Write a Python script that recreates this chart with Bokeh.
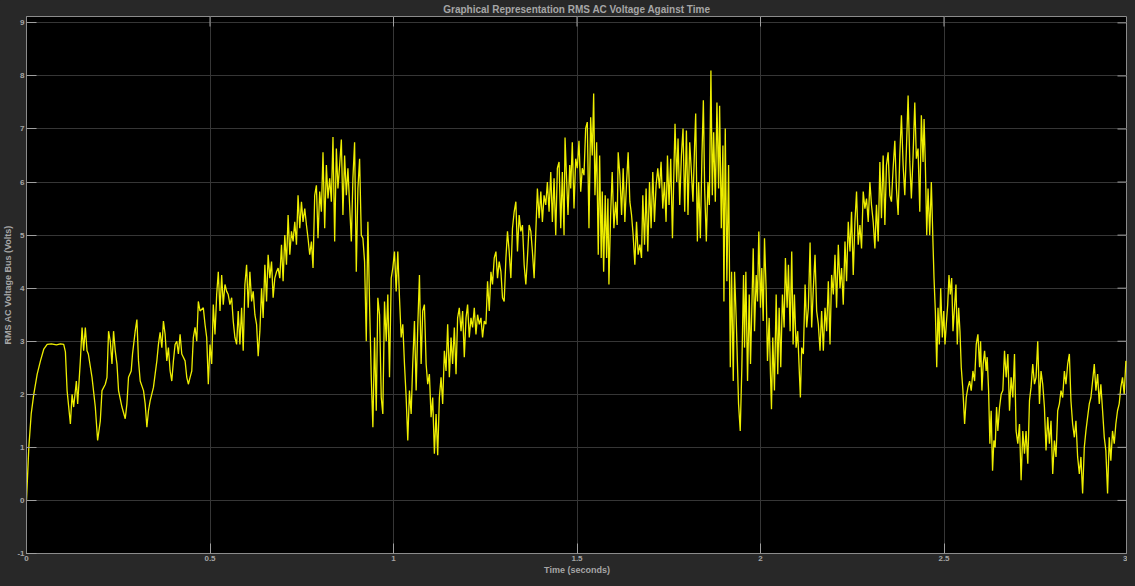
import math
from bokeh.plotting import figure
from bokeh.models import Range1d, FixedTicker, Label, ColumnDataSource
from bokeh.embed import file_html
from bokeh.resources import INLINE

# ---------------- data (time in seconds, voltage in units of 1e5 V) ----------------
time_s = [
    0.0000, 0.0063, 0.0128, 0.0198, 0.0291, 0.0380, 0.0470, 0.0563, 0.0679, 0.0815, 0.0924, 0.1014,
    0.1060, 0.1106, 0.1196, 0.1242, 0.1285, 0.1359, 0.1394, 0.1467, 0.1514, 0.1557, 0.1603, 0.1649,
    0.1685, 0.1785, 0.1875, 0.1938, 0.2011, 0.2057, 0.2147, 0.2193, 0.2236, 0.2283, 0.2329, 0.2372,
    0.2418, 0.2465, 0.2508, 0.2601, 0.2690, 0.2736, 0.2780, 0.2853, 0.2889, 0.2962, 0.3008, 0.3052,
    0.3098, 0.3188, 0.3234, 0.3280, 0.3323, 0.3370, 0.3459, 0.3505, 0.3552, 0.3595, 0.3641, 0.3688,
    0.3731, 0.3777, 0.3823, 0.3867, 0.3913, 0.3959, 0.4003, 0.4049, 0.4095, 0.4139, 0.4185, 0.4231,
    0.4274, 0.4321, 0.4367, 0.4410, 0.4457, 0.4503, 0.4546, 0.4592, 0.4639, 0.4682,
    0.4728, 0.4818, 0.4864, 0.4910, 0.4954, 0.5000, 0.5046, 0.5090, 0.5136, 0.5182, 0.5226, 0.5272,
    0.5318, 0.5361, 0.5408, 0.5454, 0.5497, 0.5543, 0.5590, 0.5633, 0.5679, 0.5726, 0.5769, 0.5815,
    0.5861, 0.5905, 0.5951, 0.5997, 0.6041, 0.6087, 0.6133, 0.6177, 0.6223, 0.6269, 0.6313, 0.6359,
    0.6405, 0.6448, 0.6495, 0.6541, 0.6584, 0.6630, 0.6677, 0.6720, 0.6766, 0.6813, 0.6856, 0.6902,
    0.6948, 0.6992, 0.7038, 0.7084, 0.7128, 0.7174, 0.7220, 0.7264, 0.7310, 0.7356, 0.7399, 0.7446,
    0.7492, 0.7535, 0.7582, 0.7628, 0.7671, 0.7717, 0.7764, 0.7807, 0.7853, 0.7899, 0.7943, 0.7989,
    0.8035, 0.8079, 0.8125, 0.8171, 0.8215, 0.8261, 0.8307, 0.8351, 0.8397, 0.8443, 0.8486, 0.8533,
    0.8579, 0.8622, 0.8668, 0.8715, 0.8758, 0.8804, 0.8851, 0.8894, 0.8940, 0.8986, 0.9030, 0.9076,
    0.9122, 0.9166, 0.9212, 0.9258, 0.9302, 0.9348, 0.9394, 0.9438, 0.9484, 0.9530, 0.9573,
    0.9620, 0.9666, 0.9709, 0.9755, 0.9802, 0.9845, 0.9891, 0.9938, 0.9981, 1.0027, 1.0073, 1.0117,
    1.0163, 1.0209, 1.0253, 1.0299, 1.0345, 1.0389, 1.0435, 1.0481, 1.0524, 1.0571, 1.0617, 1.0660,
    1.0707, 1.0753, 1.0796, 1.0842, 1.0889, 1.0932, 1.0978, 1.1024, 1.1068, 1.1114, 1.1160, 1.1204,
    1.1250, 1.1296, 1.1340, 1.1386, 1.1432, 1.1476, 1.1522, 1.1568, 1.1611, 1.1658, 1.1704, 1.1747,
    1.1793, 1.1840, 1.1883, 1.1929, 1.1976, 1.2019, 1.2065, 1.2111, 1.2155, 1.2201, 1.2247, 1.2291,
    1.2337, 1.2383, 1.2427, 1.2473, 1.2519, 1.2563, 1.2609, 1.2655, 1.2698, 1.2745, 1.2791, 1.2834,
    1.2880, 1.2927, 1.2970, 1.3016, 1.3063, 1.3106, 1.3152, 1.3198, 1.3242, 1.3288, 1.3334, 1.3378,
    1.3424, 1.3470, 1.3514, 1.3560, 1.3606, 1.3649, 1.3696, 1.3742, 1.3785, 1.3832, 1.3878, 1.3921,
    1.3967, 1.4014, 1.4057, 1.4103, 1.4149, 1.4193, 1.4239, 1.4285, 1.4329, 1.4375, 1.4421, 1.4465,
    1.4511,
    1.4557, 1.4601, 1.4647, 1.4674, 1.4709, 1.4755, 1.4802, 1.4829, 1.4872, 1.4918, 1.4965, 1.5008,
    1.5054, 1.5101, 1.5144, 1.5190, 1.5236, 1.5280, 1.5326, 1.5372, 1.5416, 1.5454, 1.5489, 1.5535,
    1.5579, 1.5617, 1.5660, 1.5688, 1.5726, 1.5769, 1.5807, 1.5842, 1.5870, 1.5916, 1.5959, 1.6005,
    1.6052, 1.6095, 1.6122, 1.6168, 1.6215, 1.6258, 1.6304, 1.6351, 1.6394, 1.6440, 1.6486, 1.6530,
    1.6576, 1.6622, 1.6666, 1.6712, 1.6758, 1.6793, 1.6840, 1.6883, 1.6929, 1.6976, 1.7019, 1.7065,
    1.7111, 1.7155, 1.7201, 1.7247, 1.7291, 1.7337, 1.7383, 1.7427, 1.7465, 1.7508, 1.7554, 1.7601,
    1.7644, 1.7671, 1.7717, 1.7753, 1.7799, 1.7845, 1.7889, 1.7935, 1.7981, 1.8024, 1.8071, 1.8117,
    1.8160, 1.8207, 1.8234, 1.8280, 1.8315, 1.8361, 1.8405, 1.8443, 1.8478, 1.8524, 1.8568, 1.8606,
    1.8649, 1.8687, 1.8723, 1.8769, 1.8813, 1.8859, 1.8886, 1.8932, 1.8976, 1.9003, 1.9040, 1.9084,
    1.9130, 1.9177, 1.9212, 1.9258, 1.9293, 1.9340,
    1.9402, 1.9448, 1.9492, 1.9538, 1.9565, 1.9601, 1.9647, 1.9693, 1.9728, 1.9764, 1.9802, 1.9837,
    1.9883, 1.9918, 1.9954, 2.0000, 2.0035, 2.0073, 2.0109, 2.0155, 2.0190, 2.0236, 2.0272, 2.0299,
    2.0334, 2.0380, 2.0427, 2.0470, 2.0508, 2.0552, 2.0598, 2.0644, 2.0679, 2.0726, 2.0761, 2.0807,
    2.0851, 2.0889, 2.0924, 2.0970, 2.1014, 2.1060, 2.1087, 2.1122, 2.1168, 2.1215, 2.1258, 2.1304,
    2.1351, 2.1394, 2.1440, 2.1486, 2.1530, 2.1576, 2.1622, 2.1666, 2.1712, 2.1758, 2.1802, 2.1848,
    2.1894, 2.1938, 2.1984, 2.2030, 2.2073, 2.2120, 2.2166, 2.2209, 2.2255, 2.2302, 2.2345, 2.2391,
    2.2438, 2.2481, 2.2527, 2.2573, 2.2617, 2.2663, 2.2709, 2.2753, 2.2799, 2.2845, 2.2889, 2.2935,
    2.2981, 2.3024, 2.3071, 2.3117, 2.3160, 2.3207, 2.3253, 2.3296, 2.3342, 2.3389, 2.3432, 2.3478,
    2.3524, 2.3568, 2.3614, 2.3660, 2.3704, 2.3750, 2.3796, 2.3840, 2.3886, 2.3932, 2.3976, 2.4022,
    2.4068, 2.4111, 2.4158, 2.4204, 2.4247, 2.4293, 2.4340, 2.4383, 2.4429, 2.4457, 2.4492, 2.4530,
    2.4565, 2.4611, 2.4655,
    2.4701, 2.4728, 2.4764, 2.4802, 2.4837, 2.4872, 2.4910, 2.4954, 2.4992, 2.5027, 2.5063, 2.5101,
    2.5136, 2.5171, 2.5209, 2.5245, 2.5291, 2.5326, 2.5362, 2.5399, 2.5435, 2.5470, 2.5516, 2.5562,
    2.5606, 2.5652, 2.5698, 2.5742, 2.5788, 2.5834, 2.5878, 2.5924, 2.5970, 2.5997, 2.6033, 2.6068,
    2.6106, 2.6149, 2.6177, 2.6215, 2.6250, 2.6285, 2.6323, 2.6359, 2.6394, 2.6432, 2.6467, 2.6514,
    2.6557, 2.6603, 2.6649, 2.6693, 2.6739, 2.6785, 2.6829, 2.6875, 2.6921, 2.6965, 2.7011, 2.7057,
    2.7101, 2.7147, 2.7193, 2.7236, 2.7283, 2.7329, 2.7372, 2.7418, 2.7465, 2.7508, 2.7554, 2.7601,
    2.7644, 2.7690, 2.7736, 2.7780, 2.7826, 2.7872, 2.7916, 2.7962, 2.8008, 2.8052, 2.8098, 2.8144,
    2.8188, 2.8234, 2.8280, 2.8323, 2.8370, 2.8416, 2.8459, 2.8505, 2.8552, 2.8595, 2.8641, 2.8688,
    2.8731, 2.8777, 2.8823, 2.8867, 2.8913, 2.8959, 2.9003, 2.9049, 2.9095, 2.9139, 2.9185, 2.9231,
    2.9274, 2.9321, 2.9367, 2.9410, 2.9457, 2.9503, 2.9546, 2.9592, 2.9639, 2.9682, 2.9728, 2.9774,
    2.9818, 2.9864, 2.9910, 2.9956,
]

voltage_1e5 = [
    0.00, 1.00, 1.63, 2.00, 2.38, 2.63, 2.85, 2.94, 2.95, 2.93, 2.95, 2.94,
    2.80, 2.07, 1.44, 2.00, 1.76, 2.25, 1.82, 2.63, 3.26, 2.82, 3.26, 2.82,
    2.76, 2.32, 1.76, 1.13, 1.50, 2.07, 2.19, 2.32, 3.19, 3.00, 2.57, 3.19,
    2.82, 2.57, 2.07, 1.76, 1.54, 1.82, 2.32, 2.44, 2.76, 3.19, 3.41, 2.63,
    2.25, 2.07, 1.82, 1.38, 1.69, 1.88, 2.13, 2.38, 2.63, 2.94, 3.17, 2.88,
    3.38, 3.13, 2.63, 2.88, 2.44, 2.25, 2.63, 2.94, 3.00, 2.76, 3.13, 2.76,
    2.70, 2.63, 2.32, 2.19, 2.32, 2.44, 3.07, 3.26, 3.00, 3.75,
    3.57, 3.63, 3.32, 3.07, 2.19, 2.94, 2.57, 3.69, 3.13, 3.88, 4.31, 3.57,
    4.25, 3.69, 4.07, 3.94, 3.88, 3.69, 3.82, 3.38, 3.07, 2.94, 3.57, 2.94,
    3.63, 2.82, 4.07, 4.44, 3.63, 4.31, 3.75, 3.94, 3.50, 3.32, 2.72, 3.19,
    4.00, 3.44, 4.44, 3.75, 4.63, 4.19, 4.50, 3.82, 4.19, 4.31, 4.38, 4.19,
    4.82, 4.13, 5.00, 4.44, 5.38, 4.63, 5.07, 4.88, 5.25, 4.82, 5.75, 5.13,
    5.63, 5.25, 5.50, 5.19, 4.94, 4.63, 4.88, 4.38, 5.75, 5.94, 4.94, 5.82,
    5.44, 6.56, 5.13, 6.32, 5.69, 6.07, 5.63, 6.85, 4.88, 6.63, 5.88, 6.32,
    6.80, 5.38, 6.50, 5.75, 6.26, 5.57, 4.88, 6.07, 6.75, 4.31, 5.88, 6.44,
    5.00, 4.94, 4.50, 3.00, 5.25, 3.69, 2.32, 1.38, 3.07, 1.69, 3.82,
    3.50, 1.94, 1.63, 3.75, 3.00, 3.88, 2.32, 4.19, 4.38, 4.69, 3.94, 4.69,
    3.82, 3.07, 3.32, 2.57, 1.94, 1.13, 2.07, 1.63, 2.57, 3.38, 2.07, 3.26,
    4.25, 2.57, 3.57, 3.69, 2.57, 2.19, 2.38, 1.57, 1.94, 0.88, 1.63, 0.85,
    1.94, 2.32, 1.82, 2.82, 2.44, 3.32, 2.32, 3.07, 2.57, 3.26, 2.38, 3.44,
    3.63, 3.19, 3.57, 2.70, 3.44, 3.69, 3.07, 3.44, 3.26, 3.63, 3.13, 3.50,
    3.32, 3.44, 3.07, 3.38, 3.32, 4.13, 3.57, 4.31, 4.07, 4.57, 4.69, 4.19,
    4.50, 4.31, 3.82, 3.75, 4.57, 5.07, 4.69, 4.19, 5.13, 5.44, 5.63, 4.69,
    5.38, 5.07, 5.19, 4.44, 4.07, 4.57, 5.19, 5.07, 4.69, 4.19, 5.07, 5.88,
    5.32, 5.82, 5.25, 5.75, 5.57, 6.00, 5.44, 6.19, 5.25, 6.07, 5.00, 6.26,
    6.38,
    5.13, 6.19, 5.00, 6.84, 6.19, 5.38, 6.32, 5.88, 6.75, 5.50, 6.44, 6.26,
    6.78, 5.82, 6.26, 6.13, 7.01, 7.13, 5.13, 7.22, 6.50, 7.67, 5.75, 6.75,
    4.63, 6.50, 4.57, 5.82, 4.31, 5.75, 4.57, 5.69, 4.07, 5.38, 6.19, 5.13,
    5.63, 5.19, 6.56, 6.13, 5.38, 6.26, 5.25, 6.00, 6.56, 5.63, 5.38, 5.00,
    4.44, 5.25, 4.63, 4.82, 4.57, 5.75, 4.82, 5.88, 4.69, 6.00, 5.13, 6.19,
    5.25, 5.94, 6.26, 5.88, 6.38, 5.50, 6.00, 5.25, 6.50, 5.57, 6.44, 4.94,
    6.32, 7.10, 6.00, 6.82, 5.57, 6.50, 7.01, 5.44, 6.97, 5.38, 6.75, 6.19,
    5.63, 6.75, 7.29, 4.88, 6.00, 4.94, 6.50, 7.54, 5.88, 4.88, 6.00, 5.57,
    8.10, 5.75, 6.94, 5.63, 7.50, 5.88, 7.44, 5.13, 6.69, 3.75, 7.01, 4.13,
    6.32, 2.51, 4.31, 2.25, 4.31, 3.38,
    1.82, 1.31, 2.51, 4.25, 2.88, 4.31, 2.25, 3.88, 2.57, 3.63, 4.75, 3.19,
    4.25, 3.75, 5.07, 3.63, 4.38, 3.38, 4.94, 3.94, 2.63, 3.44, 2.38, 1.72,
    3.07, 2.07, 3.88, 2.38, 3.63, 2.51, 3.88, 3.26, 4.57, 3.63, 4.44, 3.19,
    4.69, 2.94, 3.88, 2.88, 3.19, 2.38, 1.94, 2.88, 2.76, 4.07, 3.26, 3.63,
    4.86, 3.26, 4.00, 4.63, 3.57, 3.32, 2.82, 3.57, 2.82, 3.63, 3.19, 4.13,
    2.94, 4.25, 3.88, 4.63, 3.63, 4.82, 4.00, 4.38, 3.69, 4.88, 4.13, 5.25,
    4.69, 5.44, 4.25, 5.25, 5.82, 4.82, 5.19, 4.75, 5.82, 5.50, 5.69, 5.25,
    6.00, 5.57, 5.25, 4.75, 5.57, 4.88, 6.38, 5.32, 6.50, 5.19, 6.32, 6.56,
    5.75, 5.63, 6.26, 6.78, 5.88, 5.38, 6.50, 7.26, 6.32, 5.75, 6.63, 7.63,
    6.38, 5.69, 6.50, 7.50, 6.44, 6.63, 5.44, 7.26, 6.38, 7.19, 6.32, 5.00,
    5.88, 5.00, 6.00,
    4.82, 4.19, 3.57, 2.51, 3.63, 2.94, 4.00, 3.07, 3.57, 2.94, 3.32, 3.69,
    4.25, 3.88, 4.19, 3.19, 3.69, 4.07, 2.94, 3.63, 3.19, 2.51, 2.07, 1.44,
    1.94, 2.13, 2.25, 2.07, 2.44, 2.25, 2.94, 3.13, 2.51, 3.00, 2.07, 2.57,
    2.82, 2.44, 2.70, 2.07, 1.07, 1.69, 0.56, 1.13, 1.00, 1.76, 1.31, 1.76,
    2.00, 2.07, 2.82, 2.32, 2.76, 1.69, 2.32, 1.94, 2.76, 1.31, 1.07, 1.44,
    0.38, 1.31, 0.88, 1.31, 0.69, 1.88, 2.13, 2.57, 2.19, 2.32, 3.00, 1.82,
    2.44, 2.19, 1.76, 0.94, 1.57, 1.07, 1.50, 0.50, 1.13, 0.82, 1.69, 1.82,
    2.07, 1.94, 2.44, 2.19, 2.57, 2.76, 1.88, 1.44, 1.19, 1.50, 0.82, 0.50,
    0.82, 0.13, 1.00, 1.31, 1.57, 1.82, 1.94, 2.25, 2.57, 2.07, 2.38, 1.82,
    2.19, 1.69, 1.19, 0.94, 0.13, 1.19, 0.75, 1.31, 1.07, 1.44, 1.69, 1.82,
    2.13, 2.32, 2.00, 2.63,
]

x_ticks = [0, 0.5, 1, 1.5, 2, 2.5, 3]
x_tick_labels = ["0", "0.5", "1", "1.5", "2", "2.5", "3"]
y_ticks = [-1, 0, 1, 2, 3, 4, 5, 6, 7, 8, 9]
y_tick_labels = ["-1", "0", "1", "2", "3", "4", "5", "6", "7", "8", "9"]

title_text = "Graphical Representation RMS AC Voltage Against Time"
x_label = "Time (seconds)"
y_label = "RMS AC Voltage Bus (Volts)"
exponent_text = "\u00d7 10\u2075"

X_MIN, X_MAX = 0.0, 3.0
Y_MIN, Y_MAX = -1.0, 9.12

# ---------------- styling ----------------
BG = "#282828"
FRAME = "#8c8c8c"
TICK = "#a0a0a0"
GRID = "#363636"
TXT = "#a6a6a6"
LINE = "#eeee00"
FONT = "Liberation Sans"

src = ColumnDataSource(data=dict(t=time_s, v=voltage_1e5))

p = figure(
    frame_width=1101, frame_height=537,
    x_range=Range1d(X_MIN, X_MAX), y_range=Range1d(Y_MIN, Y_MAX),
    output_backend="svg", toolbar_location=None,
    min_border_left=4, min_border_right=0, min_border_top=12, min_border_bottom=0,
    background_fill_color="#000000", border_fill_color=BG,
)

p.title.text = title_text
p.title.align = "center"
p.title.text_font = FONT
p.title.text_font_size = "10px"
p.title.text_font_style = "bold"
p.title.text_color = TXT
p.title.standoff = 3
p.title.offset = 0

p.outline_line_color = FRAME
p.outline_line_width = 1

p.xgrid.ticker = FixedTicker(ticks=x_ticks)
p.ygrid.ticker = FixedTicker(ticks=y_ticks)
p.xgrid.grid_line_color = GRID
p.ygrid.grid_line_color = GRID

p.line("t", "v", source=src, line_color=LINE, line_width=1.3)

x_map = {t: s for t, s in zip(x_ticks, x_tick_labels)}
y_map = {t: s for t, s in zip(y_ticks, y_tick_labels)}

for ax, ticks, labels_map in ((p.xaxis[0], x_ticks, x_map), (p.yaxis[0], y_ticks, y_map)):
    ax.ticker = FixedTicker(ticks=ticks)
    ax.major_label_overrides = labels_map
    ax.axis_line_color = FRAME
    ax.major_tick_line_color = TICK
    ax.major_tick_in = 10
    ax.major_tick_out = 0
    ax.minor_tick_line_color = None
    ax.major_label_text_font = FONT
    ax.major_label_text_font_style = "bold"
    ax.major_label_text_color = TXT
    ax.major_label_text_font_size = "8px"
    ax.major_label_standoff = 2
    ax.axis_label_text_font = FONT
    ax.axis_label_text_font_size = "9px"
    ax.axis_label_text_font_style = "bold"
    ax.axis_label_text_color = TXT
    ax.axis_label_standoff = 1

p.xaxis[0].axis_label = x_label
p.yaxis[0].axis_label = y_label

# inward ticks on the top and right edges of the box
p.ray(x=x_ticks, y=[Y_MAX] * len(x_ticks), length=10, length_units="screen",
      angle=-math.pi / 2, line_color=TICK, line_width=1)
p.ray(x=[X_MAX] * len(y_ticks), y=y_ticks, length=10, length_units="screen",
      angle=math.pi, line_color=TICK, line_width=1)

# exponent marker above the top-left corner
p.add_layout(Label(x=X_MIN, y=Y_MAX, text=exponent_text, x_offset=1, y_offset=1,
                   text_font=FONT, text_font_size="8px", text_color=TXT,
                   text_font_style="bold"))

html = file_html(p, INLINE)
html = html.replace("<head>", "<head><style>html,body{background:%s;}</style>" % BG, 1)
open("out.html", "w").write(html)
